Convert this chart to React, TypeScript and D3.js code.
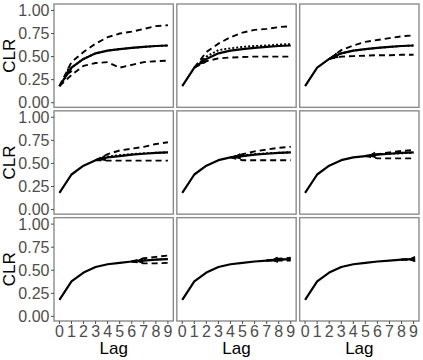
import React, { useEffect, useRef } from "react";
import * as d3 from "d3";

const lags = [0, 1, 2, 3, 4, 5, 6, 7, 8, 9];
const clr = [0.18, 0.38, 0.475, 0.535, 0.565, 0.58, 0.595, 0.605, 0.615, 0.62];
const yTicks = [0, 0.25, 0.5, 0.75, 1];

// forecast bands, panel k starts at lag k (and is drawn from the observed value at lag k)
const upper = [
  [0.44, 0.55, 0.64, 0.71, 0.75, 0.77, 0.8, 0.83, 0.84],
  [0.55, 0.64, 0.71, 0.76, 0.79, 0.8, 0.82, 0.83],
  [0.57, 0.62, 0.66, 0.68, 0.7, 0.72, 0.73],
  [0.6, 0.64, 0.66, 0.68, 0.71, 0.73],
  [0.6, 0.63, 0.65, 0.67, 0.68],
  [0.6, 0.62, 0.635, 0.645],
  [0.63, 0.645, 0.66],
  [0.625, 0.635],
  [0.625],
];
const middle = [
  [0.38, 0.475, 0.535, 0.565, 0.58, 0.595, 0.605, 0.615, 0.62],
  [0.5, 0.57, 0.59, 0.605, 0.615, 0.62, 0.63, 0.635],
  [0.535, 0.565, 0.58, 0.595, 0.605, 0.615, 0.62],
  [0.575, 0.59, 0.6, 0.61, 0.615, 0.62],
  [0.59, 0.6, 0.61, 0.615, 0.62],
  [0.6, 0.605, 0.61, 0.615],
  [0.61, 0.615, 0.625],
  [0.615, 0.62],
  [0.62],
];
const lower = [
  [0.3, 0.4, 0.43, 0.44, 0.38, 0.41, 0.44, 0.45, 0.455],
  [0.45, 0.48, 0.49, 0.495, 0.5, 0.5, 0.5, 0.5],
  [0.5, 0.505, 0.51, 0.515, 0.515, 0.52, 0.52],
  [0.53, 0.53, 0.53, 0.53, 0.53, 0.53],
  [0.535, 0.535, 0.535, 0.535, 0.535],
  [0.555, 0.555, 0.555, 0.555],
  [0.575, 0.575, 0.58],
  [0.605, 0.605],
  [0.615],
];
// where the arrow head sits on the observed curve in each panel
const arrowLag = [0.6, 1.4, 2.2, 3.3, 4.3, 5.3, 6.4, 7.4, 8.6];

const width = 423;
const height = 360;
const left = 54, right = 419, top = 4, bottom = 321, gap = 3.5;
const pw = (right - left - 2 * gap) / 3;
const ph = (bottom - top - 2 * gap) / 3;
const font = "'Liberation Sans', Arial, sans-serif";

export default function App() {
  const ref = useRef<SVGSVGElement>(null);

  useEffect(() => {
    const svg = d3.select(ref.current);
    svg.selectAll("*").remove();

    const x = d3.scaleLinear().domain([-0.45, 9.45]).range([0, pw]);
    const y = d3.scaleLinear().domain([-0.05, 1.07]).range([ph, 0]);
    const line = d3.line<[number, number]>().x(d => x(d[0])).y(d => y(d[1]));

    for (let p = 0; p < 9; p++) {
      const col = p % 3, row = Math.floor(p / 3);
      const g = svg.append("g")
        .attr("transform", `translate(${left + col * (pw + gap)},${top + row * (ph + gap)})`);

      g.append("rect")
        .attr("width", pw).attr("height", ph)
        .attr("fill", "white").attr("stroke", "#8c8c8c").attr("stroke-width", 1.4);

      const start: [number, number] = [p, clr[p]];
      const band = (vals: number[]) =>
        [start, ...vals.map((v, i) => [p + 1 + i, v] as [number, number])];

      g.append("path").attr("d", line(band(upper[p])))
        .attr("fill", "none").attr("stroke", "black").attr("stroke-width", 1.9)
        .attr("stroke-dasharray", "6,4");
      g.append("path").attr("d", line(band(lower[p])))
        .attr("fill", "none").attr("stroke", "black").attr("stroke-width", 1.9)
        .attr("stroke-dasharray", "6,4");
      g.append("path").attr("d", line(band(middle[p])))
        .attr("fill", "none").attr("stroke", "black").attr("stroke-width", 1.9)
        .attr("stroke-dasharray", "2,2");

      g.append("path").attr("d", line(lags.map((l, i) => [l, clr[i]] as [number, number])))
        .attr("fill", "none").attr("stroke", "black").attr("stroke-width", 2.2)
        .attr("stroke-linejoin", "round");

      // arrow head pointing back along the curve
      const a = arrowLag[p];
      const i0 = Math.min(Math.floor(a), 8);
      const t = a - i0;
      const tx = x(a), ty = y(clr[i0] + t * (clr[i0 + 1] - clr[i0]));
      const dx = x(i0 + 1) - x(i0), dy = y(clr[i0 + 1]) - y(clr[i0]);
      const len = Math.hypot(dx, dy);
      const ux = dx / len, uy = dy / len;
      const L = 6, W = 2.6;
      const bx = tx + ux * L, by = ty + uy * L;
      g.append("path")
        .attr("d", `M${tx},${ty}L${bx - uy * W},${by + ux * W}L${bx + uy * W},${by - ux * W}Z`)
        .attr("fill", "black").attr("stroke", "black").attr("stroke-width", 1);

      if (col === 0) {
        const ya = g.append("g");
        yTicks.forEach(v => {
          ya.append("line").attr("x1", -3).attr("x2", 0).attr("y1", y(v)).attr("y2", y(v))
            .attr("stroke", "#4d4d4d").attr("stroke-width", 1);
          ya.append("text").attr("x", -4.5).attr("y", y(v)).attr("dy", "0.36em")
            .attr("text-anchor", "end").attr("font-family", font).attr("font-size", 16)
            .attr("fill", "#4d4d4d").text(d3.format(".2f")(v));
        });
        g.append("text")
          .attr("transform", `translate(${9 - left},${ph / 2}) rotate(-90)`)
          .attr("text-anchor", "middle").attr("dy", "0.36em")
          .attr("font-family", font).attr("font-size", 17).attr("fill", "black").text("CLR");
      }
      if (row === 2) {
        lags.forEach(l => {
          g.append("line").attr("x1", x(l)).attr("x2", x(l)).attr("y1", ph).attr("y2", ph + 3)
            .attr("stroke", "#4d4d4d").attr("stroke-width", 1);
          g.append("text").attr("x", x(l)).attr("y", ph + 16)
            .attr("text-anchor", "middle").attr("font-family", font).attr("font-size", 16)
            .attr("fill", "#4d4d4d").text(l);
        });
        g.append("text").attr("x", pw / 2).attr("y", ph + 33)
          .attr("text-anchor", "middle").attr("font-family", font).attr("font-size", 17)
          .attr("fill", "black").text("Lag");
      }
    }
  }, []);

  return (
    <svg ref={ref} width={width} height={height}
      style={{ position: "absolute", left: 0, top: 0, background: "white" }} />
  );
}
